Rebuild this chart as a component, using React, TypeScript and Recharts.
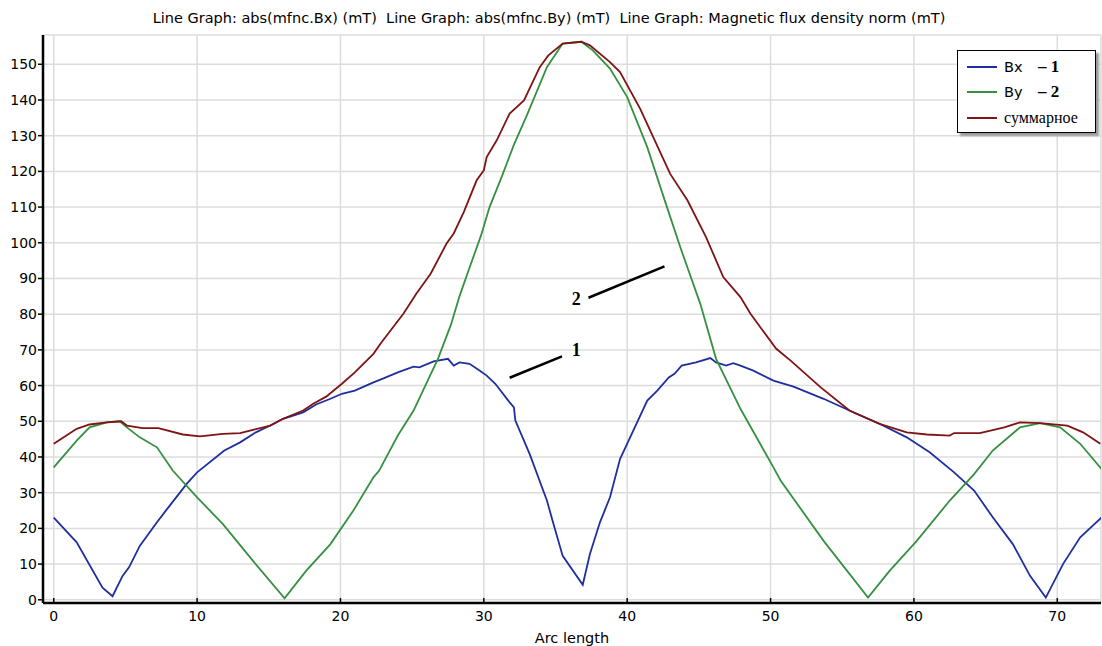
import React from 'react';
import { LineChart, Line, XAxis, YAxis, CartesianGrid, ReferenceLine, ReferenceDot } from 'recharts';

// abs(mfnc.Bx), mT
const bxArc = [0, 1.6, 3.4, 4.1, 4.8, 5.25, 6.0, 7.2, 7.9, 9.3, 10.0, 11.9, 13.0, 14.1, 15.1, 16.0, 17.4, 18.3, 19.3, 20.1, 21.0, 22.3, 23.0, 24.0, 25.1, 25.5, 26.5, 27.5, 27.9, 28.3, 29.0, 29.7, 30.2, 30.8, 31.8, 32.1, 32.2, 33.2, 34.4, 34.8, 35.5, 36.9, 37.4, 38.1, 38.8, 39.5, 40.1, 41.4, 42.1, 42.9, 43.3, 43.8, 44.8, 45.8, 46.2, 46.9, 47.4, 47.9, 48.8, 50.2, 51.6, 53.7, 56.0, 57.6, 59.5, 61.1, 62.8, 64.2, 65.5, 66.9, 68.1, 69.2, 70.4, 71.6, 73.1];
const bxVal = [23, 16.1, 3.4, 1.0, 6.7, 9.1, 15.1, 21.7, 25.4, 32.6, 35.7, 41.8, 44.1, 46.9, 48.8, 50.7, 52.5, 54.7, 56.3, 57.7, 58.6, 60.9, 62.0, 63.7, 65.3, 65.1, 66.8, 67.5, 65.6, 66.5, 66.1, 64.2, 62.8, 60.5, 55.3, 53.9, 50.2, 40.8, 27.8, 22.1, 12.3, 4.2, 12.8, 21.7, 28.7, 39.4, 44.6, 55.8, 58.6, 62.3, 63.3, 65.6, 66.5, 67.7, 66.5, 65.6, 66.3, 65.6, 64.2, 61.4, 59.7, 56.3, 52.1, 49.3, 45.5, 41.3, 35.7, 30.6, 23.1, 15.6, 6.7, 0.6, 10.0, 17.5, 23.1];

// abs(mfnc.By), mT
const byArc = [0, 1.6, 2.5, 3.7, 4.6, 5.1, 6.0, 7.2, 8.3, 10.0, 11.8, 13.9, 16.1, 17.6, 19.3, 20.9, 22.3, 22.7, 24.0, 25.1, 26.1, 26.8, 27.7, 28.3, 29.0, 29.8, 30.4, 31.3, 32.1, 33.0, 34.4, 35.5, 36.8, 37.6, 38.8, 40.0, 41.4, 42.7, 43.7, 45.1, 46.2, 47.9, 50.2, 50.7, 53.7, 56.8, 58.3, 60.2, 62.5, 64.2, 65.5, 67.4, 68.8, 70.2, 71.6, 73.1];
const byVal = [37.1, 44.6, 48.3, 49.7, 50.0, 48.3, 45.5, 42.7, 36.2, 28.7, 21.2, 10.9, 0.4, 8.1, 15.6, 25.0, 34.3, 36.2, 46.0, 53.0, 61.5, 67.5, 77.0, 85.0, 93.0, 102.0, 110.0, 119.0, 127.5, 135.7, 149.2, 155.8, 156.3, 153.9, 148.8, 140.8, 126.8, 110.9, 98.8, 82.9, 67.5, 53.5, 37.1, 33.4, 16.5, 0.6, 8.1, 16.5, 27.8, 35.2, 41.8, 48.3, 49.5, 48.3, 43.7, 36.6];

// magnetic flux density norm, mT
const normArc = [0, 1.6, 2.5, 3.7, 4.7, 5.1, 6.2, 7.3, 9.0, 10.2, 11.8, 13.0, 13.9, 15.1, 16.0, 17.4, 18.1, 19.0, 20.1, 21.0, 22.3, 22.8, 24.4, 25.3, 26.3, 27.4, 27.9, 28.6, 29.5, 30.0, 30.2, 30.9, 31.8, 32.8, 33.9, 34.5, 35.5, 36.8, 37.4, 38.8, 39.5, 40.9, 41.8, 43.0, 44.2, 45.5, 46.7, 47.9, 48.6, 50.4, 51.4, 53.5, 55.5, 57.6, 59.5, 60.9, 62.5, 62.8, 64.6, 66.3, 67.4, 68.8, 70.7, 71.8, 73.0];
const normVal = [43.7, 47.9, 49.1, 49.7, 50.0, 48.8, 48.1, 48.1, 46.3, 45.8, 46.5, 46.7, 47.6, 48.8, 50.7, 53.0, 54.9, 56.9, 60.5, 63.7, 68.9, 71.8, 80.2, 85.8, 91.4, 99.8, 102.6, 108.6, 117.5, 120.3, 124.0, 128.7, 136.2, 139.9, 149.2, 152.5, 155.8, 156.3, 155.3, 150.6, 147.8, 137.6, 129.7, 119.3, 111.9, 101.6, 90.4, 84.8, 80.1, 70.3, 67.0, 59.5, 53.0, 49.3, 46.9, 46.3, 46.0, 46.7, 46.7, 48.3, 49.7, 49.5, 48.8, 46.9, 43.7];

const xTicks = [0, 10, 20, 30, 40, 50, 60, 70];
const yTicks = [0, 10, 20, 30, 40, 50, 60, 70, 80, 90, 100, 110, 120, 130, 140, 150];

const seriesNames = ['Bx', 'By', 'суммарное'];
const seriesMarks = ['– 1', '– 2', ''];
const seriesColors = ['#1f2f9e', '#359040', '#7e1414'];

const title = 'Line Graph: abs(mfnc.Bx) (mT)  Line Graph: abs(mfnc.By) (mT)  Line Graph: Magnetic flux density norm (mT)';

const zip = (xs: number[], ys: number[]) => xs.map((x, i) => ({ x, y: ys[i] }));
const series = [zip(bxArc, bxVal), zip(byArc, byVal), zip(normArc, normVal)];

const sans = '"DejaVu Sans", Verdana, sans-serif';
const serif = '"Liberation Serif", "Times New Roman", serif';

const LegendBox = () => (
    <div
        style={{
            position: 'absolute',
            left: 957,
            top: 50,
            width: 139,
            height: 83,
            border: '1.5px solid #000',
            background: '#fff',
            boxShadow: '3px 3px 2px #9a9a9a',
            paddingTop: 3,
            boxSizing: 'border-box',
        }}
    >
        {seriesNames.map((name, i) => (
            <div key={name} style={{ display: 'flex', alignItems: 'center', height: 25.5 }}>
                <div style={{ width: 30, height: 2, background: seriesColors[i], marginLeft: 9, marginRight: 7 }} />
                <span
                    style={{
                        fontFamily: i === 2 ? serif : sans,
                        fontSize: i === 2 ? 16 : 14.5,
                        width: i === 2 ? 'auto' : 34,
                        color: '#000',
                    }}
                >
                    {name}
                </span>
                <span style={{ fontFamily: serif, fontSize: 17, fontWeight: 700 }}>{seriesMarks[i]}</span>
            </div>
        ))}
    </div>
);

export default function App() {
    return (
        <div style={{ position: 'absolute', left: 0, top: 0, width: 1102, height: 646, background: '#fff' }}>
            <div
                style={{
                    position: 'absolute',
                    top: 10,
                    left: 0,
                    width: 1098,
                    textAlign: 'center',
                    fontFamily: sans,
                    fontSize: 14.5,
                    color: '#000',
                    whiteSpace: 'pre',
                }}
            >
                {title}
            </div>
            <LineChart width={1102} height={646} margin={{ top: 35, right: 1, bottom: 0, left: 0 }}>
                <CartesianGrid stroke="#dcdcdc" strokeWidth={1.5} />
                <XAxis
                    type="number"
                    dataKey="x"
                    domain={[-0.75, 73.05]}
                    allowDataOverflow
                    ticks={xTicks}
                    height={43}
                    tickSize={-5}
                    tickMargin={13}
                    axisLine={{ stroke: '#000', strokeWidth: 2.5 }}
                    tickLine={{ stroke: '#000', strokeWidth: 1.5 }}
                    tick={{ fill: '#000', fontSize: 14, fontFamily: sans }}
                    label={{ value: 'Arc length', position: 'insideBottom', offset: 3, fill: '#000', fontSize: 14.5, fontFamily: sans }}
                />
                <XAxis
                    xAxisId="top"
                    orientation="top"
                    type="number"
                    dataKey="x"
                    domain={[-0.75, 73.05]}
                    allowDataOverflow
                    ticks={xTicks}
                    height={0}
                    tickSize={-5}
                    tickFormatter={() => ''}
                    axisLine={{ stroke: '#000', strokeWidth: 2.5 }}
                    tickLine={{ stroke: '#000', strokeWidth: 1.5 }}
                />
                <YAxis
                    type="number"
                    domain={[-0.9, 158.2]}
                    allowDataOverflow
                    ticks={yTicks}
                    width={43}
                    tickSize={5}
                    tickMargin={1}
                    axisLine={{ stroke: '#000', strokeWidth: 2.5 }}
                    tickLine={{ stroke: '#000', strokeWidth: 1.5 }}
                    tick={{ fill: '#000', fontSize: 14, fontFamily: sans }}
                />
                {series.map((pts, i) => (
                    <Line
                        key={seriesNames[i]}
                        data={pts}
                        dataKey="y"
                        name={seriesNames[i]}
                        type="linear"
                        stroke={seriesColors[i]}
                        strokeWidth={1.8}
                        dot={false}
                        isAnimationActive={false}
                    />
                ))}
                <ReferenceLine segment={[{ x: 37.3, y: 84.6 }, { x: 42.6, y: 93.4 }]} stroke="#000" strokeWidth={2.5} />
                <ReferenceLine segment={[{ x: 31.8, y: 62.2 }, { x: 35.45, y: 68.2 }]} stroke="#000" strokeWidth={2.5} />
                <ReferenceDot x={36.45} y={84.5} r={0} fill="none" stroke="none"
                    label={{ value: '2', position: 'center', fill: '#000', fontSize: 18, fontWeight: 700, fontFamily: serif }} />
                <ReferenceDot x={36.45} y={70} r={0} fill="none" stroke="none"
                    label={{ value: '1', position: 'center', fill: '#000', fontSize: 18, fontWeight: 700, fontFamily: serif }} />
            </LineChart>
            <LegendBox />
        </div>
    );
}
